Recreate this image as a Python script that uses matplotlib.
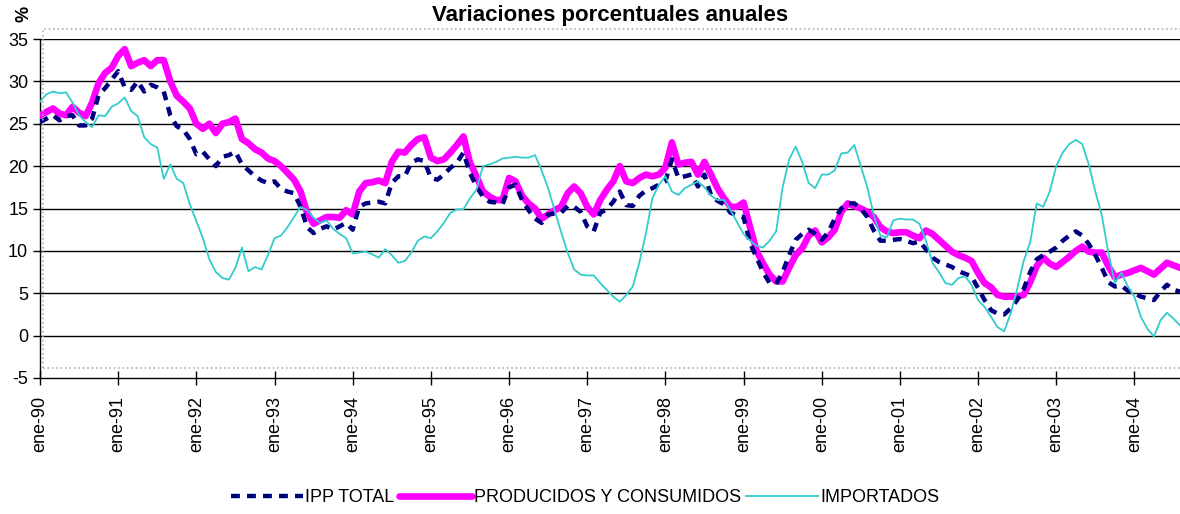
import numpy as np
import matplotlib.pyplot as plt
from matplotlib.patches import Rectangle

plt.rcParams['font.family'] = ['Liberation Sans', 'DejaVu Sans']
plt.rcParams['axes.unicode_minus'] = False

# --- datos mensuales: ene-90 a ago-04 ---
ipp_total = [
    25.2, 25.6, 26.0, 25.4, 25.9, 26.0, 24.8, 24.8, 25.6, 28.4, 29.2, 30.2,
    31.2, 29.3, 29.0, 30.0, 28.8, 29.6, 29.3, 28.8, 26.0, 24.7, 24.3, 23.2,
    21.4, 21.7, 20.8, 20.0, 21.1, 21.3, 21.7, 20.2, 19.5, 18.8, 18.3, 18.0,
    18.2, 17.3, 17.0, 16.8, 15.2, 12.8, 12.1, 12.6, 12.9, 12.5, 12.9, 13.3,
    12.5, 15.2, 15.6, 15.7, 15.8, 15.6, 18.0, 18.8, 18.8, 20.4, 20.8, 20.6,
    18.6, 18.4, 19.0, 19.8, 20.4, 21.6, 19.2, 17.6, 16.4, 15.8, 15.7, 15.5,
    17.5, 17.8, 16.0, 14.8, 13.8, 13.3, 14.3, 14.4, 14.5, 15.3, 15.2, 14.6,
    12.9, 12.3, 14.5, 14.9, 15.8, 17.0, 15.4, 15.3, 16.5, 17.1, 17.4, 17.8,
    18.2, 20.8, 18.6, 18.8, 19.0, 17.6, 19.0, 16.6, 15.9, 15.5, 14.5, 14.2,
    14.0, 10.9, 9.2, 7.5, 6.2, 6.1, 7.5, 9.5, 11.3, 12.0, 12.5, 12.0,
    11.3, 12.2, 13.8, 15.0, 15.6, 15.6, 15.0, 14.0, 12.4, 11.2, 11.2, 11.3,
    11.4, 11.2, 10.9, 11.1, 10.2, 9.2, 8.7, 8.4, 8.1, 7.6, 7.3, 7.0,
    5.6, 4.2, 3.0, 2.6, 2.5, 3.2, 4.2, 5.5, 7.5, 9.0, 9.5, 9.9,
    10.4, 11.2, 11.8, 12.3, 11.8, 10.8, 9.5, 8.0, 6.3, 5.8, 5.9, 5.3,
    5.0, 4.6, 4.4, 4.2, 5.2, 6.0, 5.4, 5.2,
]

producidos = [
    26.0, 26.4, 26.8, 26.2, 26.0, 27.0, 26.3, 25.9, 27.5, 29.8, 31.0, 31.6,
    33.0, 33.8, 31.8, 32.2, 32.5, 31.8, 32.5, 32.5, 30.0, 28.3, 27.6, 26.8,
    25.0, 24.4, 25.0, 23.9, 25.0, 25.2, 25.6, 23.2, 22.7, 22.0, 21.6, 20.9,
    20.6, 20.0, 19.2, 18.4, 17.0, 14.5, 13.2, 13.6, 14.0, 14.0, 13.9, 14.8,
    14.3, 17.0, 18.0, 18.1, 18.3, 18.0, 20.5, 21.7, 21.6, 22.5, 23.2, 23.4,
    21.0, 20.6, 20.8, 21.6, 22.5, 23.5, 20.4, 18.8, 17.0, 16.4, 16.0, 16.0,
    18.6, 18.2, 16.5, 15.6, 15.0, 13.8, 14.3, 14.8, 15.2, 16.8, 17.6, 16.8,
    15.2, 14.3, 16.0, 17.2, 18.2, 20.0, 18.2, 18.0, 18.6, 19.0, 18.8, 19.0,
    19.8, 22.8, 20.2, 20.4, 20.5, 19.0, 20.5, 19.0, 17.4, 16.2, 15.2, 15.2,
    15.7, 12.8, 10.0, 8.5, 7.2, 6.4, 6.4, 8.0, 9.5, 10.3, 11.8, 12.4,
    11.0, 11.6, 12.5, 14.6, 15.6, 15.3, 15.0, 14.6, 14.0, 12.8, 12.3, 12.1,
    12.2, 12.2, 11.8, 11.5, 12.4, 12.0, 11.3, 10.6, 9.9, 9.5, 9.2, 8.8,
    7.4, 6.2, 5.7, 4.8, 4.6, 4.6, 4.6, 4.8, 6.3, 8.2, 9.2, 8.5,
    8.1, 8.7, 9.3, 10.0, 10.5, 9.9, 9.8, 9.8, 8.2, 6.9, 7.2, 7.4,
    7.7, 8.0, 7.6, 7.2, 7.9, 8.6, 8.3, 8.0,
]

importados = [
    27.6, 28.5, 28.8, 28.6, 28.7, 27.5, 26.0, 25.2, 24.6, 26.0, 25.9, 27.0,
    27.4, 28.1, 26.5, 25.9, 23.4, 22.6, 22.2, 18.5, 20.2, 18.5, 18.0, 15.5,
    13.5, 11.5, 9.0, 7.5, 6.8, 6.6, 8.0, 10.4, 7.6, 8.1, 7.8, 9.5,
    11.5, 11.8, 12.8, 14.0, 15.2, 14.8, 13.9, 13.3, 13.6, 12.6, 12.0, 11.5,
    9.7, 9.8, 9.9, 9.6, 9.2, 10.2, 9.5, 8.6, 8.8, 9.8, 11.2, 11.7,
    11.5, 12.3, 13.3, 14.5, 14.9, 14.9, 16.2, 17.2, 20.0, 20.2, 20.5, 20.9,
    21.0, 21.1, 21.0, 21.0, 21.3, 19.5, 17.4, 14.8, 12.2, 9.8, 7.8, 7.2,
    7.1, 7.1, 6.2, 5.4, 4.6, 4.0, 4.8, 5.8, 8.6, 12.0, 16.2, 17.8,
    18.8, 17.0, 16.6, 17.4, 17.8, 18.2, 17.5, 16.5, 16.0, 16.0, 14.8, 13.4,
    12.0, 11.2, 10.6, 10.4, 11.2, 12.3, 17.5, 20.8, 22.3, 20.5, 18.0, 17.4,
    19.0, 19.0, 19.5, 21.5, 21.6, 22.5, 20.0, 17.5, 14.2, 11.8, 11.6, 13.6,
    13.8, 13.7, 13.7, 13.2, 11.2, 8.6, 7.5, 6.2, 6.0, 6.8, 7.0, 6.0,
    4.2, 3.4, 2.2, 1.0, 0.5, 2.6, 5.5, 8.8, 11.0, 15.6, 15.2, 17.0,
    20.0, 21.6, 22.6, 23.1, 22.6, 20.2, 17.0, 14.2, 9.8, 6.2, 7.4, 5.8,
    4.6, 2.2, 0.8, -0.1, 1.8, 2.7, 2.0, 1.2,
]

tick_labels = ['ene-90', 'ene-91', 'ene-92', 'ene-93', 'ene-94', 'ene-95',
               'ene-96', 'ene-97', 'ene-98', 'ene-99', 'ene-00', 'ene-01',
               'ene-02', 'ene-03', 'ene-04']

meses = np.arange(len(ipp_total))

fig = plt.figure(figsize=(11.8, 5.14), dpi=100)
ax = fig.add_axes([40 / 1180, 1 - 378 / 514, 1140 / 1180, 339 / 514])

# marco gris del área de trazado (estilo Excel)
fig.patches.append(Rectangle((43 / 1180, 1 - 368 / 514), 1.0, 339 / 514,
                             transform=fig.transFigure, fill=False,
                             edgecolor='#b0b0b0', lw=1.2, ls=':', zorder=0))

l1, = ax.plot(meses, ipp_total, color='#000080', lw=3.2,
              ls=(0, (2, 1.6)), zorder=4, label='IPP TOTAL')
l2, = ax.plot(meses, producidos, color='#ff00ff', lw=4.8,
              solid_capstyle='round', zorder=3, label='PRODUCIDOS Y CONSUMIDOS')
l3, = ax.plot(meses, importados, color='#33cccc', lw=1.3,
              zorder=5, label='IMPORTADOS')

ax.set_xlim(0, len(ipp_total) - 1)
ax.set_ylim(-5, 35)
ax.set_yticks(range(-5, 36, 5))
ax.set_xticks(range(0, len(ipp_total), 12))
ax.set_xticklabels(tick_labels, rotation=90, fontsize=13)
ax.tick_params(axis='y', labelsize=13, direction='out', length=5, width=1)
ax.tick_params(axis='x', direction='inout', length=10, width=1, pad=8)

for v in range(0, 36, 5):
    ax.axhline(v, color='black', lw=1, zorder=1)

for s in ['top', 'right']:
    ax.spines[s].set_visible(False)
ax.spines['left'].set_linewidth(1)
ax.spines['bottom'].set_linewidth(1)
ax.patch.set_alpha(0)

fig.text(610 / 1180, 1 - 15 / 514, 'Variaciones porcentuales anuales',
         ha='center', va='center', fontsize=16, fontweight='bold')
fig.text(24 / 1180, 1 - 14 / 514, '%', rotation=90, ha='center',
         va='center', fontsize=13, fontweight='bold')

fig.legend(handles=[l1, l2, l3], loc='center', ncol=3,
           bbox_to_anchor=(585 / 1180, 1 - 498 / 514), frameon=False,
           fontsize=13, handlelength=4.0, handletextpad=0.1,
           columnspacing=0.3)

plt.savefig('out.png', dpi=100)
